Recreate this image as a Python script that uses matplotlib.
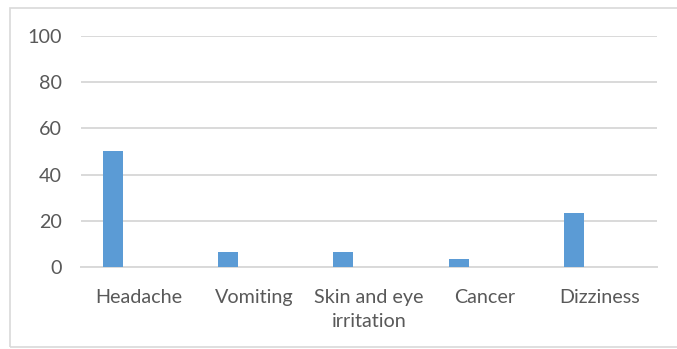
import numpy as np
import matplotlib.pyplot as plt
from matplotlib.patches import Rectangle

# symptom share (%) reported by respondents
symptoms = ['Headache', 'Vomiting', 'Skin and eye\nirritation', 'Cancer', 'Dizziness']
percent = [50.0, 6.67, 6.67, 3.33, 23.33]
yticks = [0, 20, 40, 60, 80, 100]

bar_color = '#5b9bd5'
grid_color = '#d9d9d9'
text_color = '#595959'

plt.rcParams['font.family'] = ['Lato', 'DejaVu Sans']

fig = plt.figure(figsize=(6.77, 3.49), dpi=100)
ax = fig.add_axes([0.1196, 0.235, 0.851, 0.662])

# outer chart frame
fig.patches.append(Rectangle((10 / 677, 2 / 349), 1.0, 339 / 349,
                             transform=fig.transFigure, fill=False,
                             edgecolor='#d9d9d9', linewidth=1.2))

x = np.arange(len(symptoms))
ax.bar(x - 0.222, percent, width=0.174, color=bar_color, zorder=3)

ax.set_xlim(-0.5, len(symptoms) - 0.5)
ax.set_ylim(0, 100)
ax.set_yticks(yticks)
ax.set_xticks(x)
ax.set_xticklabels(symptoms, linespacing=1.5)

ax.grid(axis='y', color=grid_color, linewidth=1.4, zorder=0)
for side in ['top', 'right', 'left']:
    ax.spines[side].set_visible(False)
ax.spines['bottom'].set_color(grid_color)
ax.spines['bottom'].set_linewidth(1.4)

ax.tick_params(axis='both', length=0, labelsize=14.2, colors=text_color)
ax.tick_params(axis='y', pad=14)
ax.tick_params(axis='x', pad=16)

plt.savefig('out.png', dpi=100)
plt.close()
